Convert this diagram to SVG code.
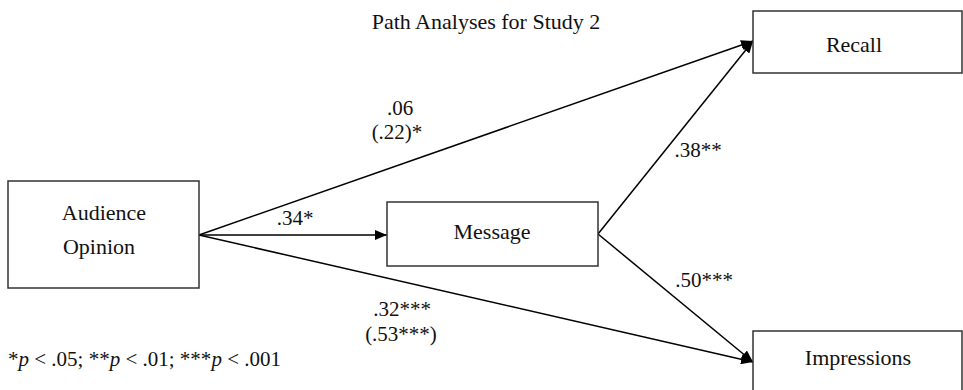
<svg xmlns="http://www.w3.org/2000/svg" width="963" height="390" viewBox="0 0 963 390">
<defs>
<style>
text{font-family:"Liberation Serif","Times New Roman",serif;font-size:21px;fill:#111;}
.nt{font-size:22px;}
.box{fill:#fff;stroke:#333;stroke-width:1.5;}
.edge{stroke:#000;stroke-width:1.5;fill:none;marker-end:url(#arr);}
</style>
<marker id="arr" viewBox="0 0 12 10" refX="12" refY="5" markerWidth="12" markerHeight="10" markerUnits="userSpaceOnUse" orient="auto"><path d="M0,0 L12,5 L0,10 z" fill="#000"/></marker>
</defs>
<rect width="963" height="390" fill="#fff"/>
<text class="nt" x="486" y="29" text-anchor="middle">Path Analyses for Study 2</text>
<g id="connectors">
<line class="edge" x1="199" y1="235" x2="753" y2="41"/>
<line class="edge" x1="199" y1="235" x2="387" y2="235"/>
<line class="edge" x1="199" y1="235" x2="753" y2="362"/>
<line class="edge" x1="598" y1="234" x2="753" y2="41"/>
<line class="edge" x1="598" y1="234" x2="753" y2="362"/>
</g>
<g id="audience"><rect class="box" x="8" y="181" width="191" height="107"/><text class="nt" x="104" y="220" text-anchor="middle">Audience</text><text class="nt" x="99" y="254" text-anchor="middle">Opinion</text></g>
<g id="message"><rect class="box" x="387" y="202" width="211" height="64"/><text class="nt" x="492" y="239" text-anchor="middle">Message</text></g>
<g id="recall"><rect class="box" x="753" y="11" width="209" height="62"/><text class="nt" x="854" y="52" text-anchor="middle">Recall</text></g>
<g id="impressions"><rect class="box" x="753" y="331" width="209" height="70"/><text class="nt" x="858" y="365" text-anchor="middle">Impressions</text></g>
<g id="labels">
<text x="400" y="115" text-anchor="middle">.06</text>
<text x="397" y="139" text-anchor="middle">(.22)*</text>
<text x="295" y="225" text-anchor="middle">.34*</text>
<text x="698" y="157" text-anchor="middle">.38**</text>
<text x="704" y="287" text-anchor="middle">.50***</text>
<text x="402" y="316" text-anchor="middle">.32***</text>
<text x="401" y="341" text-anchor="middle">(.53***)</text>
<text x="8" y="366">*<tspan font-style="italic">p</tspan> &lt; .05; **<tspan font-style="italic">p</tspan> &lt; .01; ***<tspan font-style="italic">p</tspan> &lt; .001</text>
</g>
</svg>
